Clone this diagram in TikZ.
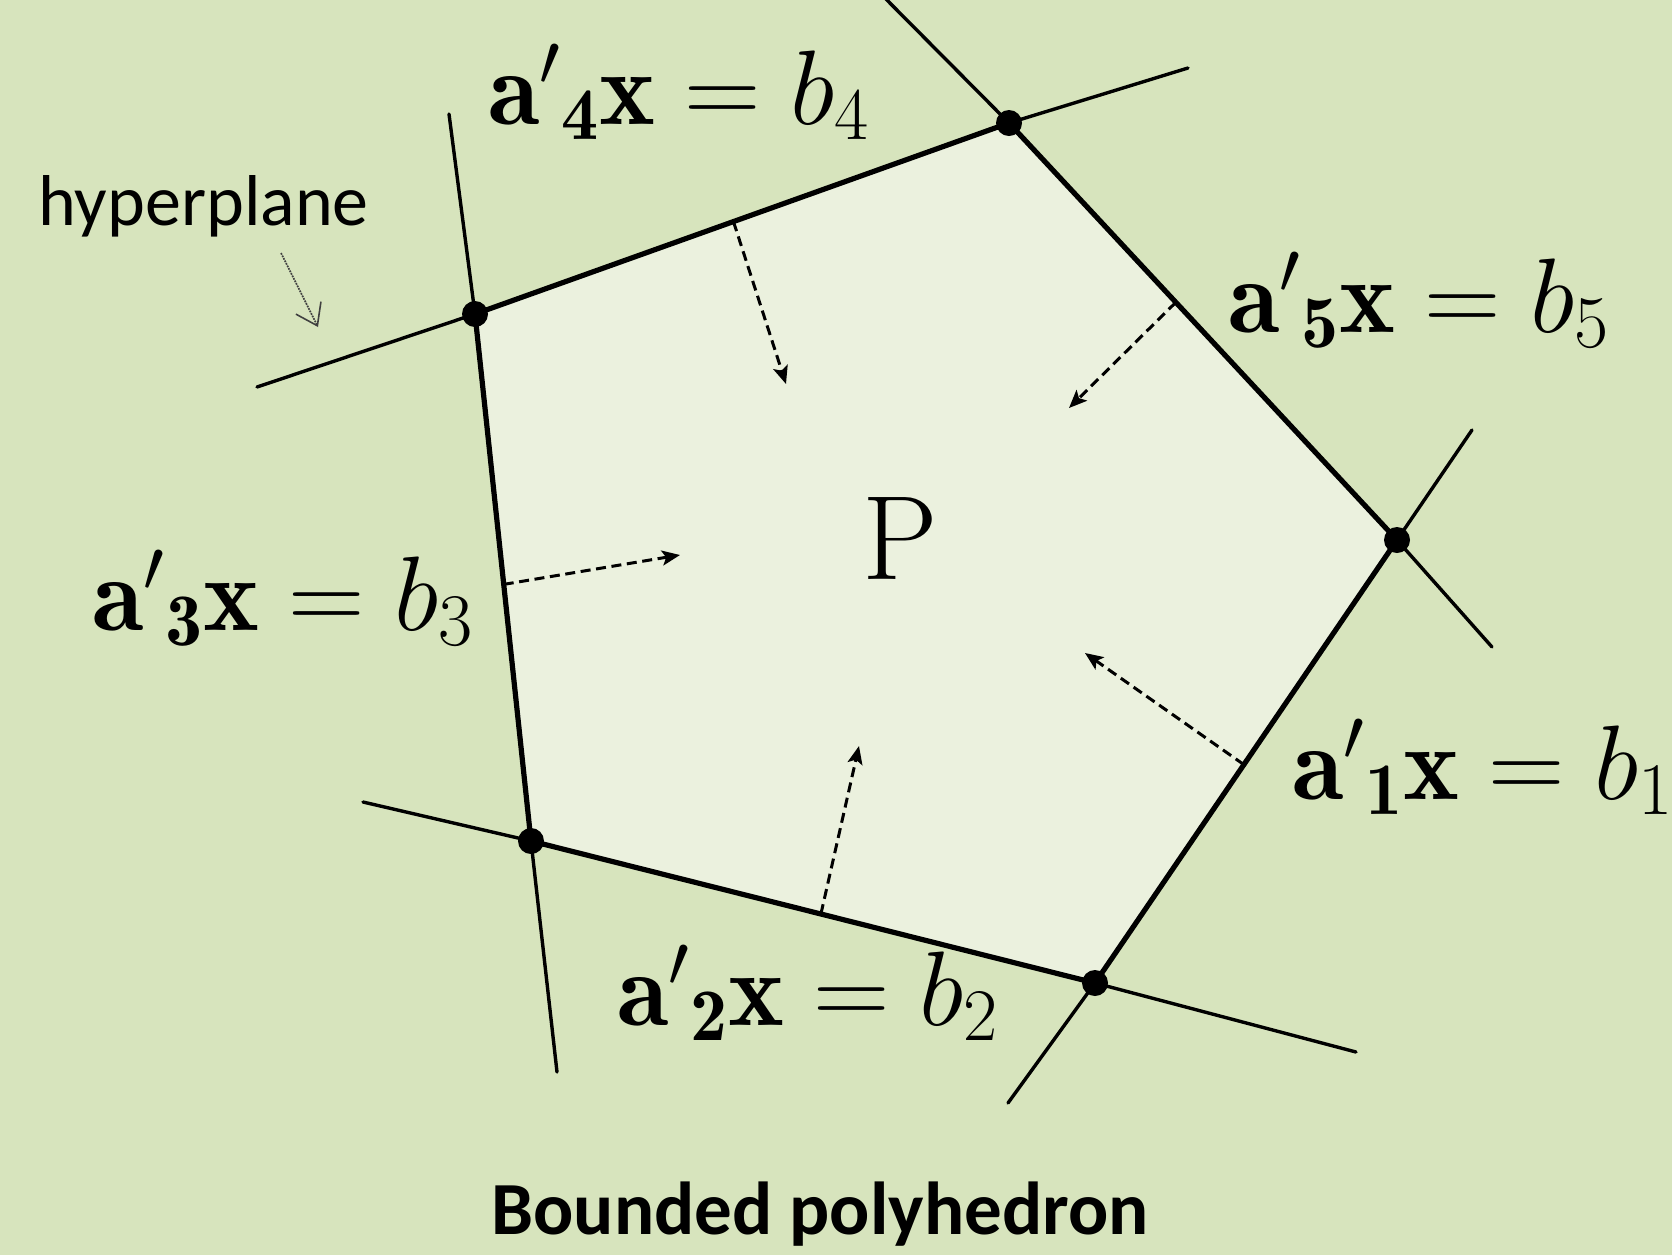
\RequirePackage{fix-cm}
\documentclass[tikz,border=0pt]{standalone}
\usepackage{fontspec}
\newfontfamily\carlito{Carlito}
\usetikzlibrary{arrows.meta,calc}
\definecolor{bgc}{HTML}{D7E4BD}
\definecolor{polyc}{HTML}{EBF1DE}
\newcommand\hplbl[1]{${\mathbf{a}'}_{\mathbf{#1}}\mathbf{x} = b_{#1}$}
\tikzset{
  hline/.style={line width=1.7pt, line cap=round, line join=round},
  edgeline/.style={line width=2.6pt, line join=round},
  normalarrow/.style={line width=1.5pt, dash pattern=on 5pt off 2.8pt, -{Stealth[length=9pt,width=7.5pt,inset=2pt]}},
  hparrow/.style={line width=0.8pt, black!75, dash pattern=on 0.9pt off 0.5pt, -{Straight Barb[length=10pt,width=14pt,line width=0.8pt]}},
  eqlabel/.style={anchor=base west, inner sep=0pt, font=\fontsize{53}{58}\selectfont},
  vdot/.style={fill=black}
}
\begin{document}
\begin{tikzpicture}[x=0.5pt,y=-0.5pt]
\fill[bgc] (0,0) rectangle (1672,1255);
\useasboundingbox (0,0) rectangle (1672,1255);
% vertices
\coordinate (V4) at (1009,123);
\coordinate (V3) at (475,314);
\coordinate (V2) at (531,841);
\coordinate (V1) at (1095,983);
\coordinate (V5) at (1397,540);
% hyperplane ends
\coordinate (L4a) at (257,387); \coordinate (L4b) at (1188,68);
\coordinate (L5a) at (877,-10); \coordinate (L5b) at (1492,647);
\coordinate (L1a) at (1472,430); \coordinate (L1b) at (1008,1103);
\coordinate (L2a) at (363,802); \coordinate (L2b) at (1356,1052);
\coordinate (L3a) at (449,114); \coordinate (L3b) at (557,1072);
% polyhedron
\fill[polyc] (V3) -- (V4) -- (V5) -- (V1) -- (V2) -- cycle;
% hyperplanes
\draw[hline] (L4a) -- (V3) -- (V4) -- (L4b);
\draw[hline] (L5a) -- (V4) -- (V5) -- (L5b);
\draw[hline] (L1a) -- (V5) -- (V1) -- (L1b);
\draw[hline] (L2a) -- (V2) -- (V1) -- (L2b);
\draw[hline] (L3a) -- (V3) -- (V2) -- (L3b);
% edges
\draw[edgeline] (V3) -- (V4) -- (V5) -- (V1) -- (V2) -- cycle;
% vertex dots
\foreach \v in {V1,V2,V3,V4,V5} \fill[vdot] (\v) circle[radius=6.5pt];
% normal arrows
\coordinate (A4s) at ($(V3)!0.484!(V4)$); \coordinate (A4e) at (786,384);
\coordinate (A5s) at ($(V4)!0.43!(V5)$);  \coordinate (A5e) at (1069,408);
\coordinate (A3s) at ($(V3)!0.513!(V2)$); \coordinate (A3e) at (680,555);
\coordinate (A1s) at ($(V5)!0.507!(V1)$); \coordinate (A1e) at (1085,653);
\coordinate (A2s) at ($(V2)!0.514!(V1)$); \coordinate (A2e) at (859,746);
\draw[normalarrow] (A4s) -- (A4e);
\draw[normalarrow] (A5s) -- (A5e);
\draw[normalarrow] (A3s) -- (A3e);
\draw[normalarrow] (A1s) -- (A1e);
\draw[normalarrow] (A2s) -- (A2e);
% labels
\node[eqlabel] (lab4) at (488,124) {\hplbl{4}};
\node[eqlabel] (lab5) at (1228,332) {\hplbl{5}};
\node[eqlabel] (lab3) at (92,630) {\hplbl{3}};
\node[eqlabel] (lab1) at (1292,799) {\hplbl{1}};
\node[eqlabel] (lab2) at (617,1025) {\hplbl{2}};
\node[anchor=base, inner sep=0pt, font=\fontsize{60}{60}\selectfont] (P) at (900,579) {P};
\node[anchor=base west, inner sep=0pt, font=\carlito\fontsize{36}{40}\selectfont] (hyp) at (38,225) {hyperplane};
\coordinate (H1) at (281,253); \coordinate (H2) at (318,327);
\draw[hparrow] (H1) -- (H2);
\node[anchor=base, inner sep=0pt, font=\carlito\bfseries\fontsize{37.5}{40}\selectfont] (title) at (820,1234) {Bounded polyhedron};
\end{tikzpicture}
\end{document}
